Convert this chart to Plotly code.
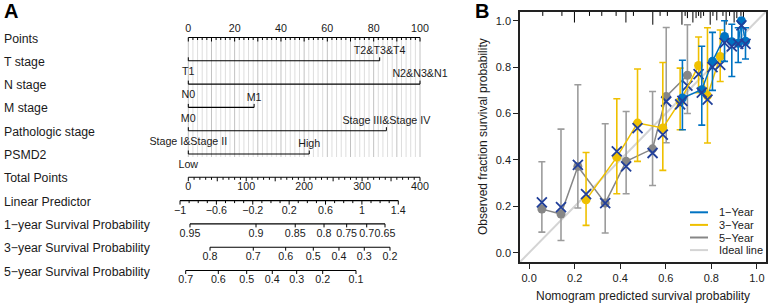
import plotly.graph_objects as go
import numpy as np

W, H = 768, 304
FONT = "Liberation Sans, Arial, sans-serif"
INK = "#1a1a1a"

# ---------------- Panel A (nomogram) data ----------------
row_labels = ["Points", "T stage", "N stage", "M stage", "Pathologic stage", "PSMD2",
              "Total Points", "Linear Predictor", "1\u2212year Survival Probability",
              "3\u2212year Survival Probability", "5\u2212year Survival Probability"]
points_labels = [0, 20, 40, 60, 80, 100]

t_levels = ["T1", "T2&T3&T4"]
t_points = [0, 82.6]
n_levels = ["N0", "N2&N3&N1"]
n_points = [0, 100]
m_levels = ["M0", "M1"]
m_points = [0, 28.4]
path_levels = ["Stage I&Stage II", "Stage III&Stage IV"]
path_points = [0, 85.5]
psmd2_levels = ["Low", "High"]
psmd2_points = [0, 52.2]

total_labels = [0, 100, 200, 300, 400]
lp_labels = [-1, -0.6, -0.2, 0.2, 0.6, 1, 1.4]
lp_ends = [-1, 1.4]
lp_ends_total = [-14.3, 362.5]

surv1_probs = [0.95, 0.9, 0.85, 0.8, 0.75, 0.7, 0.65]
surv1_total = [2.9, 116.9, 184.6, 234.3, 273.4, 308.0, 339.6]
surv3_probs = [0.8, 0.7, 0.6, 0.5, 0.4, 0.3, 0.2]
surv3_total = [37.5, 112.2, 168.1, 215.8, 260.1, 303.8, 348.2]
surv5_probs = [0.7, 0.6, 0.5, 0.4, 0.3, 0.2, 0.1]
surv5_total = [-4.5, 51.8, 100.8, 145.0, 187.1, 232.0, 289.5]

# ---------------- Panel B (calibration) data ----------------
y1_pred = [0.673, 0.758, 0.805, 0.858, 0.890, 0.918, 0.932, 0.950]
y1_obs = [0.667, 0.703, 0.825, 0.932, 0.910, 0.903, 1.000, 0.912]
y1_lo = [0.530, 0.550, 0.700, 0.825, 0.760, 0.820, 0.905, 0.835]
y1_hi = [0.830, 0.890, 0.950, 1.000, 0.985, 0.970, 1.000, 0.970]
y1_corr = [0.655, 0.690, 0.800, 0.905, 0.890, 0.900, 0.980, 0.900]

y3_pred = [0.250, 0.385, 0.476, 0.587, 0.663, 0.744, 0.783, 0.839]
y3_obs = [0.228, 0.412, 0.559, 0.538, 0.652, 0.807, 0.677, 0.846]
y3_lo = [0.118, 0.254, 0.394, 0.355, 0.530, 0.690, 0.473, 0.738]
y3_hi = [0.432, 0.664, 0.792, 0.820, 0.796, 0.930, 0.970, 0.960]
y3_corr = [0.253, 0.437, 0.537, 0.509, 0.640, 0.770, 0.660, 0.810]

y5_pred = [0.056, 0.140, 0.214, 0.334, 0.426, 0.542, 0.602, 0.695]
y5_obs = [0.188, 0.167, 0.372, 0.214, 0.394, 0.448, 0.674, 0.765]
y5_lo = [0.089, 0.053, 0.193, 0.085, 0.254, 0.290, 0.474, 0.600]
y5_hi = [0.392, 0.533, 0.724, 0.556, 0.609, 0.695, 0.971, 0.983]
y5_corr = [0.217, 0.197, 0.379, 0.214, 0.372, 0.430, 0.652, 0.720]

rug_x = [0.06, 0.144, 0.199, 0.265, 0.319, 0.382, 0.425, 0.458, 0.543, 0.575, 0.607,
         0.671, 0.685, 0.695, 0.719, 0.733, 0.744, 0.754, 0.766, 0.795, 0.807, 0.824,
         0.851, 0.865, 0.88, 0.9, 0.912, 0.93, 0.941]
rug_count = [2, 2, 5, 2, 2, 2, 5, 2, 6, 2, 2, 6, 2, 3, 5, 3, 2, 3, 2, 6, 2, 4, 2, 6, 2, 5, 3, 2, 4]

x_ticks = [0, 0.2, 0.4, 0.6, 0.8, 1.0]
legend_names = ["1\u2212Year", "3\u2212Year", "5\u2212Year", "Ideal line"]
C_BLUE, C_YEL, C_GRAY, C_IDEAL, C_X = "#0073C2", "#EFC000", "#868686", "#d4d4d4", "#22409a"

fig = go.Figure()

# ================= Panel A =================
XA = dict(xaxis="x2", yaxis="y2")
PX0 = 188.3          # pixel of 0 points
PPX = 2.317          # pixels per point
row_y = [37.5 + 23.3 * i for i in range(11)]


def seg_trace(xs0, xs1, ys0, ys1, color, width):
    xs, ys = [], []
    for a, b, c, d in zip(xs0, xs1, ys0, ys1):
        xs += [a, b, None]
        ys += [c, d, None]
    return go.Scatter(x=xs, y=ys, mode="lines", line=dict(color=color, width=width),
                      hoverinfo="skip", showlegend=False, **XA)


def text_trace(xs, ys, texts, size=10.7):
    return go.Scatter(x=xs, y=ys, text=texts, mode="text", textposition="middle center",
                      textfont=dict(family=FONT, size=size, color=INK),
                      hoverinfo="skip", showlegend=False, **XA)


# grid lines
grid_top, grid_bot = row_y[0], 157
minor = [p for p in np.arange(0, 101, 2) if p % 10 != 0]
major = list(range(0, 101, 10))
fig.add_trace(seg_trace(minor, minor, [grid_top] * len(minor), [grid_bot] * len(minor), "#dddddd", 1))
fig.add_trace(seg_trace(major, major, [grid_top] * len(major), [grid_bot] * len(major), "#c2c2c2", 1))

# Points axis
y = row_y[0]
fig.add_trace(seg_trace([0], [100], [y], [y], "black", 1.1))
tk = list(np.arange(0, 101, 2))
fig.add_trace(seg_trace(tk, tk, [y] * len(tk), [y + (4 if t % 10 == 0 else 2.5) for t in tk], "black", 1))
fig.add_trace(text_trace(points_labels, [y - 8.5] * len(points_labels), [str(v) for v in points_labels]))

# variable rows
variables = [(t_levels, t_points), (n_levels, n_points), (m_levels, m_points),
             (path_levels, path_points), (psmd2_levels, psmd2_points)]
for i, (levels, pts) in enumerate(variables):
    y = row_y[i + 1]
    fig.add_trace(seg_trace([min(pts)], [max(pts)], [y], [y], "black", 1.1))
    fig.add_trace(seg_trace(pts, pts, [y] * len(pts), [y - 3.5] * len(pts), "black", 1))
    fig.add_trace(text_trace([pts[0]], [y + 11.5], [levels[0]]))
    fig.add_trace(text_trace([pts[1]], [y - 9.5], [levels[1]]))


def tp(v):
    return np.asarray(v, dtype=float) / 4.0


# Total points
y = row_y[6]
fig.add_trace(seg_trace([0], [100], [y], [y], "black", 1.1))
tk = list(range(0, 401, 10))
fig.add_trace(seg_trace(tp(tk), tp(tk), [y] * len(tk), [y + (4 if t % 50 == 0 else 2.5) for t in tk], "black", 1))
fig.add_trace(text_trace(tp(total_labels), [y + 10] * len(total_labels), [str(v) for v in total_labels]))

# Linear predictor
y = row_y[7]
slope = (lp_ends_total[1] - lp_ends_total[0]) / (lp_ends[1] - lp_ends[0])


def lp_to_total(v):
    return lp_ends_total[0] + (np.asarray(v, dtype=float) - lp_ends[0]) * slope


fig.add_trace(seg_trace(tp(lp_to_total([lp_ends[0]])), tp(lp_to_total([lp_ends[1]])), [y], [y], "black", 1.1))
lpt = [round(v, 1) for v in np.arange(-1, 1.41, 0.1)]
fig.add_trace(seg_trace(tp(lp_to_total(lpt)), tp(lp_to_total(lpt)), [y] * len(lpt),
                        [y + (4 if any(abs(v - l) < 1e-6 for l in lp_labels) else 2.5) for v in lpt], "black", 1))
fig.add_trace(text_trace(tp(lp_to_total(lp_labels)), [y + 10.3] * len(lp_labels),
                         [("%g" % v).replace("-", "\u2212") for v in lp_labels]))

# Survival rows
for i, (probs, tots) in enumerate([(surv1_probs, surv1_total), (surv3_probs, surv3_total),
                                   (surv5_probs, surv5_total)]):
    y = row_y[8 + i]
    xs = tp(tots)
    fig.add_trace(seg_trace([xs.min()], [xs.max()], [y], [y], "black", 1.1))
    fig.add_trace(seg_trace(xs, xs, [y] * len(xs), [y + 3.5] * len(xs), "black", 1))
    fig.add_trace(text_trace(xs, [y + 10.2] * len(xs), ["%g" % p for p in probs]))

# ================= Panel B =================
fig.add_trace(go.Scatter(x=[-0.04, 1.04], y=[-0.04, 1.04], mode="lines",
                         line=dict(color=C_IDEAL, width=2), hoverinfo="skip", showlegend=False))

# rug at top
rx, ry = [], []
for xv, c in zip(rug_x, rug_count):
    rx += [xv, xv, None]
    ry += [1.04, 1.04 - 0.0095 * c, None]
fig.add_trace(go.Scatter(x=rx, y=ry, mode="lines", line=dict(color="black", width=1),
                         hoverinfo="skip", showlegend=False))

series = [(y5_pred, y5_obs, y5_lo, y5_hi, y5_corr, C_GRAY, "#9c9c9c"),
          (y3_pred, y3_obs, y3_lo, y3_hi, y3_corr, C_YEL, C_YEL),
          (y1_pred, y1_obs, y1_lo, y1_hi, y1_corr, C_BLUE, C_BLUE)]
for xp, yo, lo, hi, yc, col, ecol in series:
    yo_a = np.array(yo)
    fig.add_trace(go.Scatter(
        x=xp, y=yo, mode="lines+markers",
        line=dict(color=col, width=1.5),
        marker=dict(color=col, size=9, symbol="circle"),
        error_y=dict(type="data", symmetric=False, array=list(np.array(hi) - yo_a),
                     arrayminus=list(yo_a - np.array(lo)), color=ecol, thickness=1.6, width=3.5),
        hoverinfo="skip", showlegend=False))
    fig.add_trace(go.Scatter(x=xp, y=yc, mode="markers",
                             marker=dict(symbol="x-thin", size=10, line=dict(color=C_X, width=1.8)),
                             hoverinfo="skip", showlegend=False))

# ---------------- layout ----------------
xdom = [520 / W, 766 / W]
ydom = [(H - 262) / H, (H - 11.5) / H]
axis_common = dict(showline=True, mirror=True, linecolor="#222", linewidth=1.5,
                   ticks="outside", ticklen=5, tickwidth=1.2, tickcolor="#222",
                   showgrid=False, zeroline=False, range=[-0.04, 1.04],
                   tickvals=x_ticks, ticktext=["%.1f" % v for v in x_ticks],
                   tickfont=dict(family=FONT, size=11, color=INK))

annotations = [
    dict(text="<b>A</b>", x=2 / W, y=1.005, xref="paper", yref="paper", xanchor="left", yanchor="top",
         showarrow=False, font=dict(family=FONT, size=20, color="black")),
    dict(text="<b>B</b>", x=473 / W, y=1.005, xref="paper", yref="paper", xanchor="left", yanchor="top",
         showarrow=False, font=dict(family=FONT, size=20, color="black")),
    dict(text="Nomogram predicted survival probability", x=643 / W, y=(H - 296) / H,
         xref="paper", yref="paper", xanchor="center", yanchor="middle", showarrow=False,
         font=dict(family=FONT, size=12, color=INK)),
    dict(text="Observed fraction survival probability", x=483 / W, y=(H - 137) / H,
         xref="paper", yref="paper", xanchor="center", yanchor="middle", showarrow=False, textangle=-90,
         font=dict(family=FONT, size=12, color=INK)),
]
for i, lab in enumerate(row_labels):
    annotations.append(dict(text=lab, x=2 / W, y=(H - row_y[i] - 1) / H, xref="paper", yref="paper",
                            xanchor="left", yanchor="middle", showarrow=False,
                            font=dict(family=FONT, size=12.3, color=INK)))

shapes = []
leg_cols = [C_BLUE, C_YEL, C_GRAY, C_IDEAL]
for i, (name, col) in enumerate(zip(legend_names, leg_cols)):
    yy = (H - (212.3 + 12.6 * i)) / H
    shapes.append(dict(type="line", xref="paper", yref="paper", x0=690 / W, x1=708 / W, y0=yy, y1=yy,
                       line=dict(color=col, width=2)))
    annotations.append(dict(text=name, x=717 / W, y=yy, xref="paper", yref="paper", xanchor="left",
                            yanchor="middle", showarrow=False, font=dict(family=FONT, size=11, color=INK)))

fig.update_layout(
    width=W, height=H, margin=dict(l=0, r=0, t=0, b=0),
    paper_bgcolor="white", plot_bgcolor="white", showlegend=False,
    xaxis=dict(domain=xdom, anchor="y", **axis_common),
    yaxis=dict(domain=ydom, anchor="x", **axis_common),
    xaxis2=dict(domain=[0, 449 / W], range=[-PX0 / PPX, (449 - PX0) / PPX], visible=False, anchor="y2"),
    yaxis2=dict(domain=[0, 1], range=[H, 0], visible=False, anchor="x2"),
    annotations=annotations, shapes=shapes,
)

fig.write_html("out.html", config={"displayModeBar": False},
               post_script="document.body.style.margin='0';document.body.style.overflow='hidden';")
